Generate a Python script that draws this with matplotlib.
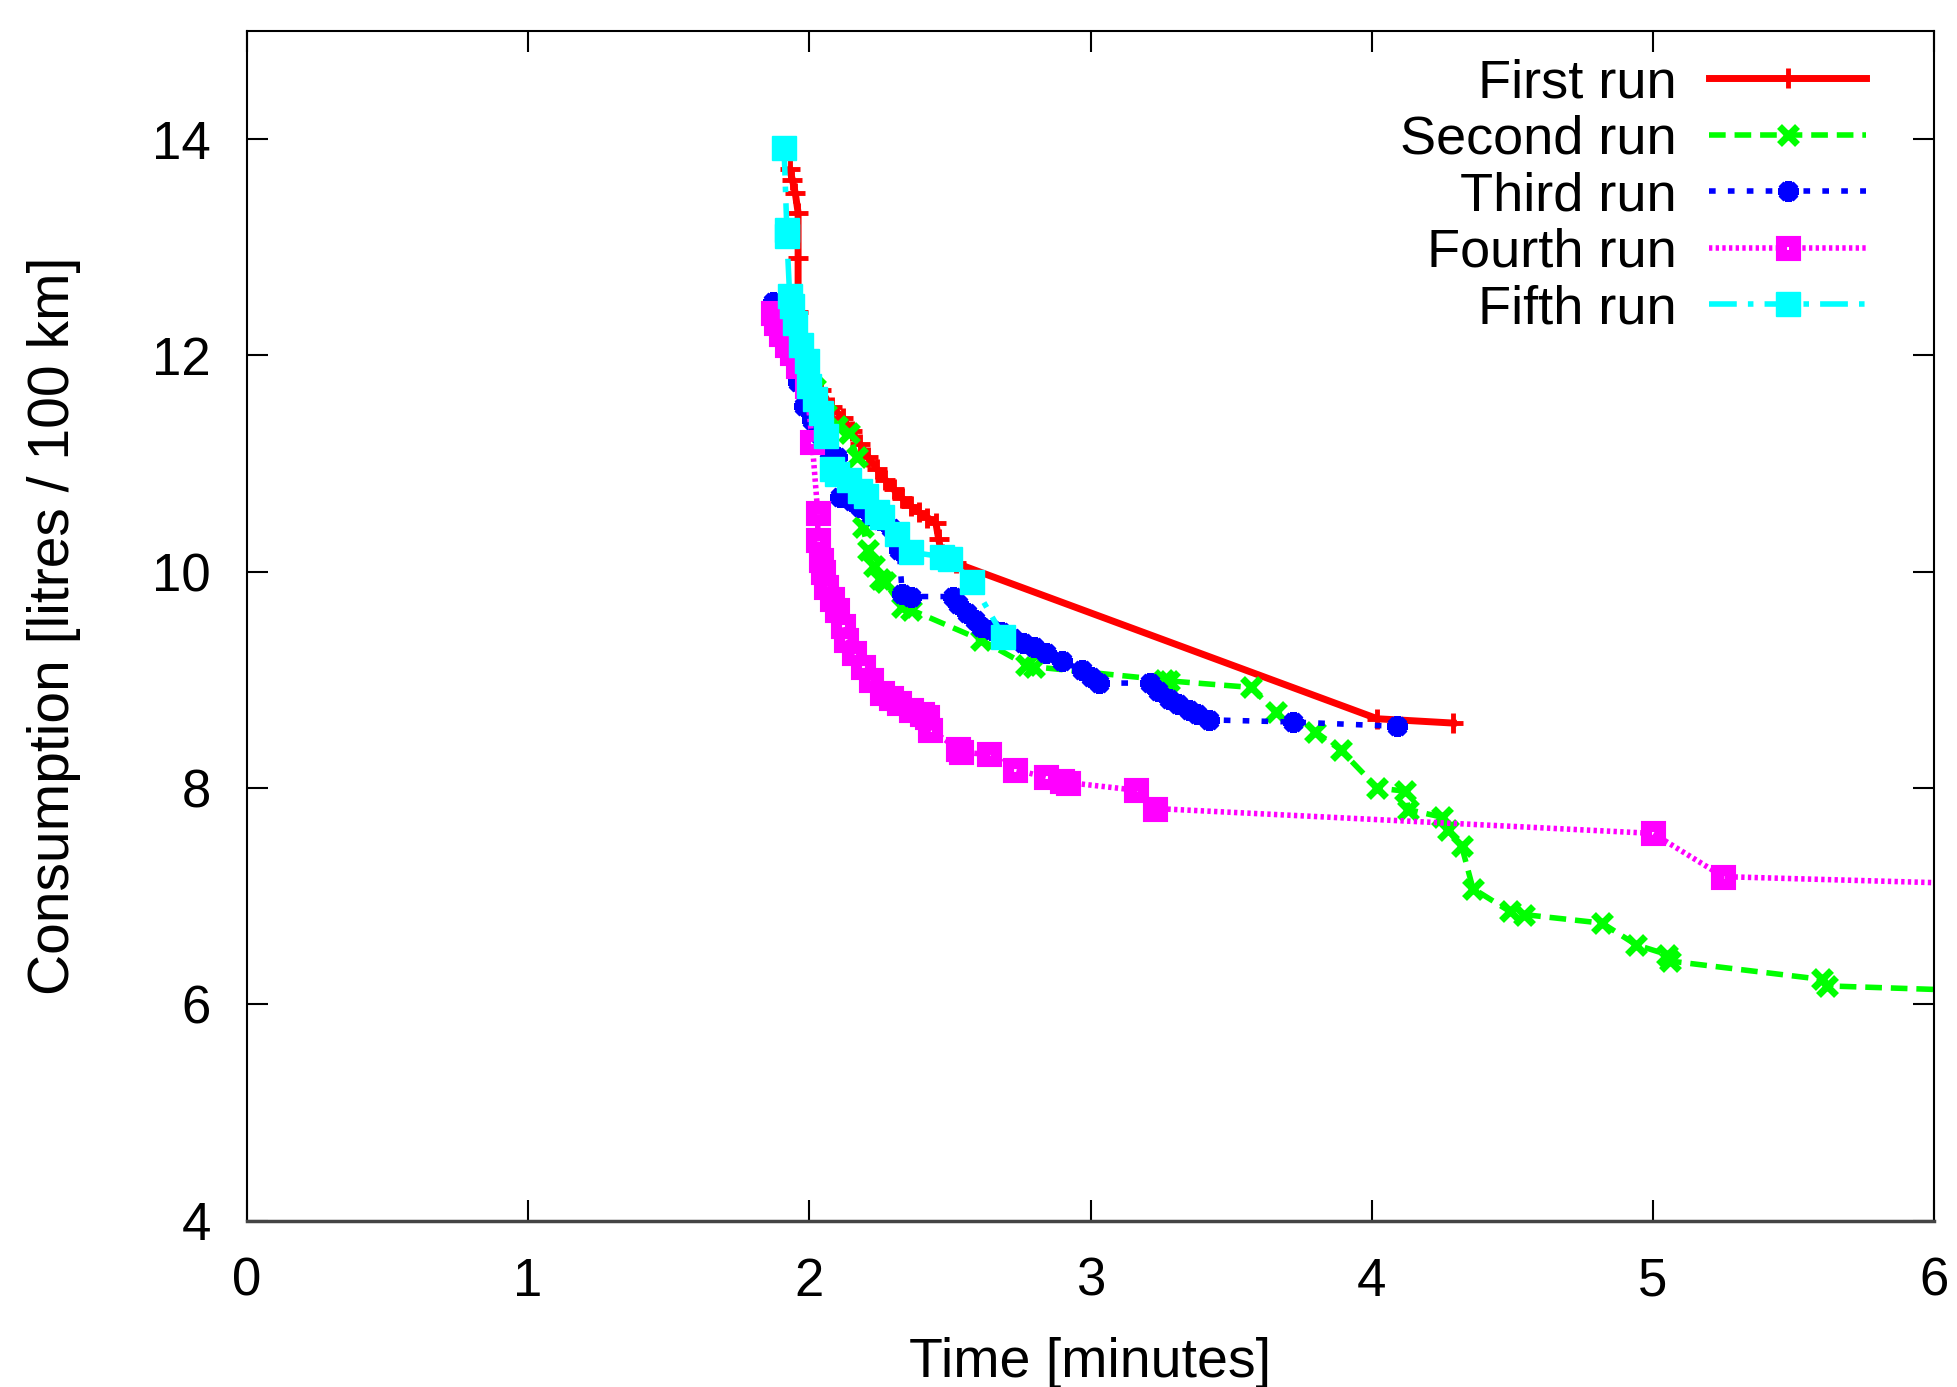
import numpy as np
import matplotlib
matplotlib.use("Agg")
import matplotlib.pyplot as plt

plt.rcParams['font.family'] = ['Liberation Sans', 'DejaVu Sans']

# First run
x1 = [1.93, 1.94, 1.95, 1.96, 1.96, 1.96, 1.97, 2.00, 2.04, 2.08, 2.12, 2.15, 2.18, 2.21,
      2.24, 2.27, 2.30, 2.33, 2.36, 2.39, 2.42, 2.45, 2.46, 2.47, 2.52, 4.02, 4.29]
y1 = [13.72, 13.62, 13.50, 13.32, 12.90, 12.40, 12.15, 11.90, 11.68, 11.52, 11.42, 11.30,
      11.18, 11.06, 10.95, 10.85, 10.76, 10.68, 10.61, 10.55, 10.50, 10.45, 10.30, 10.16,
      10.08, 8.64, 8.60]

# Second run
x2 = [1.95, 2.02, 2.06, 2.10, 2.14, 2.17, 2.19, 2.21, 2.23, 2.25, 2.27, 2.33, 2.36, 2.61,
      2.77, 2.80, 3.26, 3.28, 3.57, 3.66, 3.80, 3.89, 4.02, 4.12, 4.13, 4.25, 4.27, 4.32,
      4.36, 4.49, 4.54, 4.82, 4.94, 5.05, 5.06, 5.60, 5.62, 6.20]
y2 = [12.20, 11.70, 11.46, 11.35, 11.28, 11.06, 10.41, 10.20, 10.05, 9.93, 9.90, 9.67,
      9.65, 9.37, 9.14, 9.12, 9.00, 8.99, 8.93, 8.70, 8.52, 8.35, 8.00, 7.97, 7.80, 7.73,
      7.61, 7.46, 7.07, 6.86, 6.83, 6.75, 6.55, 6.46, 6.40, 6.23, 6.17, 6.12]

# Third run
x3 = [1.87, 1.90, 1.93, 1.96, 1.98, 2.01, 2.04, 2.07, 2.10, 2.11, 2.15, 2.18, 2.22, 2.25,
      2.29, 2.31, 2.32, 2.33, 2.36, 2.51, 2.53, 2.56, 2.59, 2.61, 2.65, 2.68, 2.72, 2.76,
      2.80, 2.84, 2.90, 2.97, 3.00, 3.03, 3.21, 3.24, 3.28, 3.31, 3.35, 3.38, 3.42, 3.72, 4.09]
y3 = [12.49, 12.25, 12.00, 11.75, 11.53, 11.40, 11.25, 11.12, 11.06, 10.69, 10.65, 10.60,
      10.52, 10.48, 10.40, 10.36, 10.20, 9.79, 9.77, 9.77, 9.70, 9.62, 9.55, 9.49, 9.46,
      9.44, 9.39, 9.34, 9.30, 9.25, 9.17, 9.09, 9.03, 8.97, 8.97, 8.90, 8.82, 8.78, 8.72,
      8.68, 8.63, 8.61, 8.57]

# Fourth run
x4 = [1.87, 1.88, 1.90, 1.92, 1.94, 1.96, 1.99, 2.01, 2.03, 2.03, 2.04, 2.05, 2.06, 2.08,
      2.10, 2.12, 2.13, 2.16, 2.19, 2.22, 2.26, 2.29, 2.32, 2.36, 2.40, 2.42, 2.43, 2.53,
      2.54, 2.64, 2.73, 2.84, 2.90, 2.92, 3.16, 3.23, 5.00, 5.25, 6.20]
y4 = [12.39, 12.30, 12.20, 12.10, 12.02, 11.90, 11.72, 11.20, 10.54, 10.29, 10.11, 10.00,
      9.86, 9.75, 9.65, 9.50, 9.37, 9.25, 9.12, 9.00, 8.88, 8.83, 8.79, 8.72, 8.68, 8.66,
      8.54, 8.36, 8.33, 8.31, 8.17, 8.10, 8.06, 8.05, 7.98, 7.81, 7.58, 7.18, 7.11]

# Fifth run
x5 = [1.91, 1.92, 1.92, 1.93, 1.94, 1.95, 1.97, 1.99, 2.00, 2.02, 2.04, 2.06, 2.08, 2.10,
      2.14, 2.18, 2.20, 2.24, 2.26, 2.31, 2.36, 2.47, 2.50, 2.58, 2.69]
y5 = [13.92, 13.16, 13.10, 12.55, 12.46, 12.30, 12.10, 11.95, 11.72, 11.60, 11.47, 11.25,
      10.95, 10.90, 10.85, 10.75, 10.70, 10.55, 10.51, 10.35, 10.18, 10.14, 10.12, 9.90, 9.40]

labels = ["First run", "Second run", "Third run", "Fourth run", "Fifth run"]

fig = plt.figure(figsize=(19.57, 13.87), dpi=100)
ax = fig.add_axes([0.1262, 0.1200, 0.8621, 0.8577])

lw = 4
ax.plot(x1, y1, color='#ff0000', lw=5, ls='-', marker='+', ms=14, mew=3.5, label=labels[0])
ax.plot(x2, y2, color='#00ff00', lw=lw, ls=(0, (3, 1.6)), marker='x', ms=13, mew=5,
        label=labels[1])
ax.plot(x3, y3, color='#0000ff', lw=lw, ls=(0, (1.2, 2.2)), marker=(8, 2, 0), ms=15, mew=5,
        label=labels[2])
ax.plot(x4, y4, color='#ff00ff', lw=lw, ls=(0, (0.6, 0.6)), marker='s', ms=10, mew=8,
        mfc='none', label=labels[3])
ax.plot(x5, y5, color='#00ffff', lw=lw, ls=(0, (5, 2, 1, 2)), marker='s', ms=17,
        label=labels[4])

ax.set_xlim(0, 6)
ax.set_ylim(4, 15)
ax.set_xticks(np.arange(0, 7, 1))
ax.set_yticks(np.arange(4, 15, 2))
ax.tick_params(direction='in', length=15, width=1.5, top=True, right=True,
               labelsize=38, pad=26)
for s in ax.spines.values():
    s.set_linewidth(1.5)
ax.spines['bottom'].set_linewidth(2.5)
ax.spines['bottom'].set_color('#444444')

ax.set_xlabel("Time [minutes]", fontsize=40, labelpad=22)
ax.set_ylabel("Consumption [litres / 100 km]", fontsize=41, labelpad=51)

leg = ax.legend(loc='upper right', bbox_to_anchor=(0.9597, 0.977), frameon=False,
                markerfirst=False, fontsize=39, handlelength=2.9, handletextpad=0.6,
                labelspacing=0.12, borderpad=0, borderaxespad=0)
for col in leg._legend_handle_box.get_children():
    col.align = 'right'

fig.savefig('out.png', dpi=100)
